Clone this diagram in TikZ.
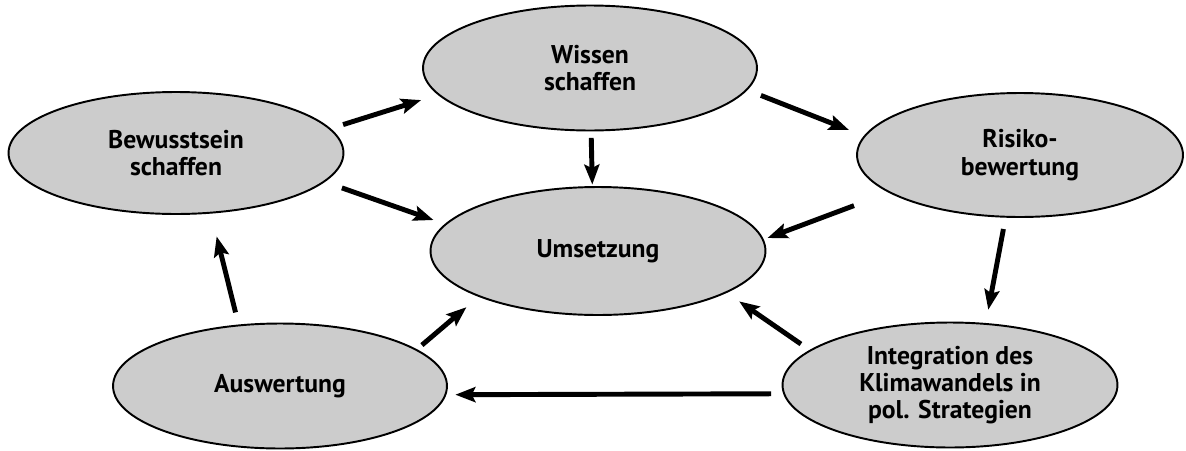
\documentclass[tikz,border=0pt]{standalone}
\usepackage{fontspec}
\setmainfont{PT Sans}
\usetikzlibrary{shapes.geometric,arrows.meta}
\definecolor{ellgrau}{HTML}{CCCCCC}

\begin{document}
\begin{tikzpicture}[
    x=0.02cm, y=-0.02cm,
    every node/.style={
        ellipse,
        draw,
        fill=ellgrau,
        line width=1.1pt,
        inner sep=0pt,
        align=center,
        minimum width=6.7cm,
        minimum height=2.5cm,
        font=\fontsize{14.6}{15.6}\selectfont\bfseries
    },
    pfeil/.style={
        -{Stealth[length=4mm,width=3mm,inset=0.7mm]},
        line width=2.8pt
    }
]
\useasboundingbox (0,0) rectangle (1186,450);

% Knoten
\node[minimum width=6.68cm] (wis) at (590,68) {Wissen\\schaffen};
\node[minimum height=2.44cm] (bew) at (176,153) {Bewusstsein\\schaffen};
\node[minimum width=6.52cm, minimum height=2.48cm] (ris) at (1020,155) {Risiko-\\bewertung};
\node[minimum height=2.56cm] (ums) at (598,251) {Umsetzung};
\node[minimum width=6.68cm] (aus) at (280,386) {Auswertung};
\node (int) at (950,385) {Integration des\\Klimawandels in\\pol. Strategien};

% Pfeile
\draw[pfeil, shorten <=0.26cm, shorten >=0.35cm] (bew.9) -- (wis.190);
\draw[pfeil, shorten <=0.36cm, shorten >=0.24cm] (bew.349) -- (ums.170);
\draw[pfeil, shorten <=0.13cm, shorten >=0.03cm] (wis.271) -- (ums.95);
\draw[pfeil, shorten <=0.29cm, shorten >=0.32cm] (wis.352) -- (ris.173);
\draw[pfeil, shorten <=0.74cm, shorten >=0.08cm] (ris.196) -- (ums.4);
\draw[pfeil, shorten <=0.23cm, shorten >=0.27cm] (ris.257) -- (int.60);
\draw[pfeil, shorten <=0.21cm, shorten >=0.30cm] (int.166) -- (ums.342);
\draw[pfeil, shorten <=0.24cm, shorten >=0.18cm] (int.183) -- (aus.357);
\draw[pfeil, shorten <=0.13cm, shorten >=0.32cm] (aus.15) -- (ums.201);
\draw[pfeil, shorten <=0.25cm, shorten >=0.47cm] (aus.124) -- (bew.300);

\end{tikzpicture}
\end{document}
